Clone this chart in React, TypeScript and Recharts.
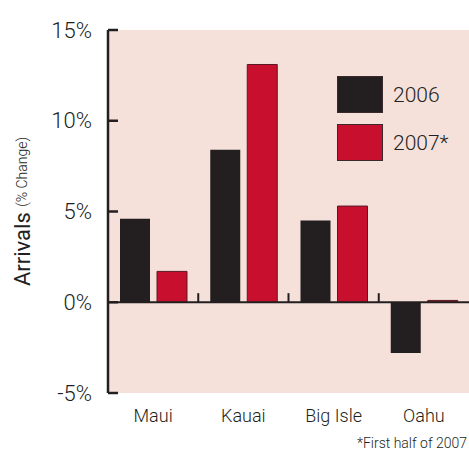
import { BarChart, Bar, XAxis, YAxis, CartesianGrid, ReferenceLine, ReferenceArea, Label } from "recharts"

const islands = ["Maui", "Kauai", "Big Isle", "Oahu"]
const change2006 = [4.6, 8.4, 4.5, -2.8]
const change2007 = [1.7, 13.1, 5.3, 0.1]
const yTicks = [-5, 0, 5, 10, 15]
const seriesNames = ["2006", "2007*"]

const INK = "#231f20"
const RED = "#c8102e"
const PINK = "#f5e0da"
const FONT = "Roboto, sans-serif"

const data = islands.map((name, i) => ({ name, y2006: change2006[i], y2007: change2007[i] }))

function YTick(props: any) {
  const { x, y, payload } = props
  return (
    <g>
      <text x={x} y={y} textAnchor="end" dominantBaseline="central" fontSize={22} fontWeight={300} fill={INK} fontFamily={FONT}>
        {payload.value}%
      </text>
      <line x1={x + 16} x2={x + 26} y1={y} y2={y} stroke={INK} strokeWidth={2.5} />
    </g>
  )
}

function YLabel(props: any) {
  const { viewBox } = props
  const cx = 22
  const cy = viewBox.y + viewBox.height / 2
  return (
    <text
      x={cx}
      y={cy}
      transform={`rotate(-90 ${cx} ${cy})`}
      textAnchor="middle"
      dominantBaseline="central"
      fill={INK}
      fontFamily={FONT}
    >
      <tspan fontSize={22}>Arrivals </tspan>
      <tspan fontSize={14} fontWeight={300}>(% Change)</tspan>
    </text>
  )
}

// small tick on the zero line at the right edge of a category band
function Divider(props: any) {
  const { x, y, width, height } = props
  return <line x1={x + width} x2={x + width} y1={y} y2={y + height} stroke={INK} strokeWidth={2} />
}

export default function App() {
  const colors = [INK, RED]
  return (
    <div style={{ position: "absolute", left: 0, top: 0, width: 469, height: 457, background: "#fff" }}>
      <BarChart
        width={469}
        height={457}
        data={data}
        margin={{ top: 30, right: 0, bottom: 0, left: 0 }}
        barSize={30}
        barGap={7}
      >
        <CartesianGrid fill={PINK} horizontal={false} vertical={false} />
        <XAxis
          dataKey="name"
          height={64}
          axisLine={false}
          tickLine={false}
          tickMargin={10}
          tick={{ fontSize: 18, fontWeight: 300, fill: INK, fontFamily: FONT }}
          interval={0}
        />
        <YAxis
          width={108}
          domain={[-5, 15]}
          ticks={yTicks}
          interval={0}
          tickSize={0}
          tickMargin={16}
          tick={<YTick />}
          axisLine={{ stroke: INK, strokeWidth: 2.5 }}
        >
          <Label content={<YLabel />} />
        </YAxis>
        <Bar dataKey="y2006" fill={INK} isAnimationActive={false} />
        <Bar dataKey="y2007" fill={RED} stroke="#5a1a22" strokeWidth={1} isAnimationActive={false} />
        <ReferenceLine y={0} stroke={INK} strokeWidth={2} />
        {islands.slice(0, -1).map((name) => (
          <ReferenceArea key={name} x1={name} x2={name} y1={0} y2={0.5} shape={<Divider />} />
        ))}
      </BarChart>
      <div style={{ position: "absolute", left: 337, top: 76, fontFamily: FONT }}>
        {seriesNames.map((n, i) => (
          <div key={n} style={{ display: "flex", alignItems: "center", height: 37, marginBottom: 11 }}>
            <div style={{ width: 44, height: 35, background: colors[i], border: "1px solid #3a2a2c" }} />
            <span style={{ marginLeft: 10, fontSize: 21, fontWeight: 300, color: INK }}>{n}</span>
          </div>
        ))}
      </div>
      <div
        style={{
          position: "absolute",
          right: 2,
          top: 435,
          fontSize: 14,
          fontWeight: 300,
          color: INK,
          fontFamily: FONT,
        }}
      >
        *First half of 2007
      </div>
    </div>
  )
}
